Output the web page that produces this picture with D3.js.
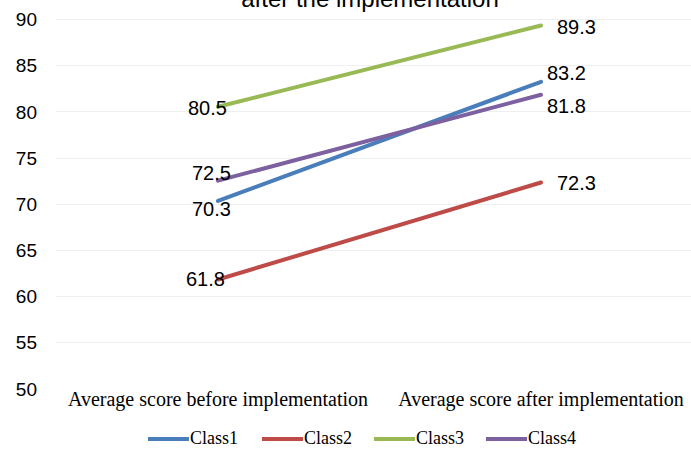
<!DOCTYPE html>
<html>
<head>
<meta charset="utf-8">
<script src="https://cdn.jsdelivr.net/npm/d3@7"></script>
<style>
  html, body { margin: 0; padding: 0; background: #fff; }
  svg { display: block; }
</style>
</head>
<body>
<svg id="chart" width="691" height="449"></svg>
<script>
// ---- data ----
const categories = ["Average score before implementation", "Average score after implementation"];
const seriesNames = ["Class1", "Class2", "Class3", "Class4"];
const class1 = [70.3, 83.2];
const class2 = [61.8, 72.3];
const class3 = [80.5, 89.3];
const class4 = [72.5, 81.8];
const yTicks = [50, 55, 60, 65, 70, 75, 80, 85, 90];
const titleText = "after the implementation";

// ---- style ----
const colors = ["#4a7ebb", "#be4b48", "#98b954", "#7d60a0"];
const seriesValues = [class1, class2, class3, class4];
// label offsets [dx, dy-of-centre] per series per category
const labelOffsets = [
  [[-26, 8], [6, -9]],
  [[-32, 0], [16, 0]],
  [[-30, 1], [16, 1.5]],
  [[-26, -8], [6, 11]]
];

const svg = d3.select("#chart");
const x = d3.scaleBand().domain(categories).range([56.5, 702.5]);
const y = d3.scaleLinear().domain([50, 90]).range([388.5, 19]);

// gridlines
svg.append("g").selectAll("line").data(yTicks.filter(t => t > 50)).join("line")
  .attr("x1", 56).attr("x2", 702)
  .attr("y1", d => Math.round(y(d)) + 0.5).attr("y2", d => Math.round(y(d)) + 0.5)
  .attr("stroke", "#efefef").attr("stroke-width", 1);

// y axis labels
const yAxis = d3.axisLeft(y).tickValues(yTicks).tickSize(0).tickPadding(0);
const gy = svg.append("g").attr("transform", "translate(37,0)").call(yAxis);
gy.select(".domain").remove();
gy.selectAll("text")
  .attr("font-family", "Liberation Sans, Arial, sans-serif")
  .attr("font-size", 19).attr("fill", "#000").attr("dy", "0.35em");

// x category labels
const xAxis = d3.axisBottom(x).tickSize(0).tickPadding(0);
const gx = svg.append("g").attr("transform", "translate(0,390)").call(xAxis);
gx.select(".domain").remove();
gx.selectAll("text")
  .attr("font-family", "Liberation Serif, Times New Roman, serif")
  .attr("font-size", 20).attr("fill", "#000").attr("dy", "0.8em");

// lines
const line = d3.line().x((d, i) => x(categories[i]) + x.bandwidth() / 2).y(d => y(d));
svg.append("g").selectAll("path").data(seriesValues).join("path")
  .attr("d", d => line(d))
  .attr("fill", "none")
  .attr("stroke", (d, i) => colors[i])
  .attr("stroke-width", 4)
  .attr("stroke-linecap", "round");

// data labels
seriesValues.forEach((vals, si) => {
  vals.forEach((v, ci) => {
    const off = labelOffsets[si][ci];
    svg.append("text")
      .attr("x", x(categories[ci]) + x.bandwidth() / 2 + off[0])
      .attr("y", y(v) + off[1])
      .attr("dy", "0.35em")
      .attr("font-family", "Liberation Sans, Arial, sans-serif")
      .attr("font-size", 20).attr("fill", "#000")
      .text(v.toFixed(1));
  });
});

// title (top line cropped off)
svg.append("text")
  .attr("x", 370).attr("y", 7)
  .attr("text-anchor", "middle")
  .attr("font-family", "Liberation Sans, Arial, sans-serif")
  .attr("font-size", 24).attr("fill", "#000")
  .text(titleText);

// legend
const legendX = [148, 262, 374, 486];
const lg = svg.append("g");
seriesNames.forEach((name, i) => {
  lg.append("line")
    .attr("x1", legendX[i]).attr("x2", legendX[i] + 41)
    .attr("y1", 439).attr("y2", 439)
    .attr("stroke", colors[i]).attr("stroke-width", 4);
  lg.append("text")
    .attr("x", legendX[i] + 42).attr("y", 438)
    .attr("dy", "0.35em")
    .attr("font-family", "Liberation Serif, Times New Roman, serif")
    .attr("font-size", 18).attr("fill", "#000")
    .text(name);
});
</script>
</body>
</html>
